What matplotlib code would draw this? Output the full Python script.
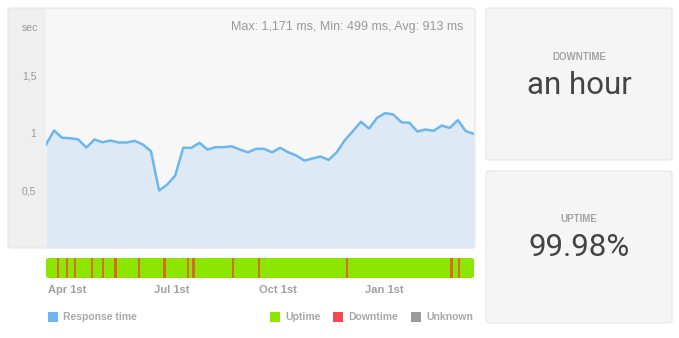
import numpy as np
import pandas as pd
import matplotlib
matplotlib.use("Agg")
import matplotlib.pyplot as plt
import matplotlib.dates as mdates
from matplotlib.patches import FancyBboxPatch, Rectangle

# === Data ===
start_date = "2016-03-14"
# weekly average response time (sec)
response_time = [
    0.898, 1.020, 0.957, 0.953, 0.942, 0.872, 0.942, 0.918, 0.933, 0.916,
    0.916, 0.930, 0.898, 0.840, 0.499, 0.550, 0.629, 0.870, 0.870, 0.913,
    0.855, 0.875, 0.875, 0.883, 0.855, 0.831, 0.861, 0.861, 0.831, 0.870,
    0.831, 0.803, 0.759, 0.777, 0.794, 0.765, 0.831, 0.936, 1.014, 1.096,
    1.037, 1.130, 1.171, 1.159, 1.092, 1.087, 1.011, 1.029, 1.017, 1.063,
    1.043, 1.110, 1.014, 0.991,
]
downtime_events = [
    "2016-03-24", "2016-04-01", "2016-04-08", "2016-04-23", "2016-05-02",
    "2016-05-13", "2016-05-14", "2016-06-03", "2016-06-24", "2016-06-25",
    "2016-07-15", "2016-07-19", "2016-07-20", "2016-08-23", "2016-09-15",
    "2016-11-30", "2017-02-28", "2017-03-01", "2017-03-07",
]
tick_dates = ["2016-04-01", "2016-07-01", "2016-10-01", "2017-01-01"]
tick_labels = ["Apr 1st", "Jul 1st", "Oct 1st", "Jan 1st"]
y_ticks = [0.5, 1.0, 1.5]
y_tick_labels = ["0,5", "1", "1,5"]
stats_text = "Max: 1,171 ms, Min: 499 ms, Avg: 913 ms"
downtime_value = "an hour"
uptime_value = "99.98%"
legend_left = [("Response time", "#6db6ee")]
legend_right = [("Uptime", "#8de600"), ("Downtime", "#f24a4f"), ("Unknown", "#9b9b9b")]

dates = pd.date_range(start_date, periods=len(response_time), freq="7D")
down_dates = pd.to_datetime(downtime_events)

plt.rcParams['font.family'] = ['Liberation Sans', 'DejaVu Sans']

W, H = 679, 338
fig = plt.figure(figsize=(W / 100, H / 100), dpi=100)
fig.patch.set_facecolor("white")


def box(x0, y0, x1, y1):
    # pixel box (top-left origin) -> figure fraction rect
    return [x0 / W, 1 - y1 / H, (x1 - x0) / W, (y1 - y0) / H]


def panel(x0, y0, x1, y1, color, edge="#e6e6e6"):
    r = box(x0, y0, x1, y1)
    p = FancyBboxPatch((r[0], r[1]), r[2], r[3],
                       boxstyle="round,pad=0,rounding_size=0.006",
                       transform=fig.transFigure, facecolor=color,
                       edgecolor=edge, linewidth=0.8, zorder=-5)
    fig.patches.append(p)


# === Chart panel ===
panel(8, 8, 475, 248, "#efefef")

ax = fig.add_axes(box(46, 9, 474, 248))
ax.set_facecolor("#f7f7f7")
ax.fill_between(dates, response_time, 0, color="#ddeaf6", linewidth=0)
ax.plot(dates, response_time, color="#6db6ee", linewidth=1.8)
ax.set_xlim(dates[0], dates[-1])
ax.set_ylim(0, 2.075)
ax.set_yticks(y_ticks, y_tick_labels)
ax.set_xticks([])
ax.tick_params(axis="y", length=0, pad=7, labelsize=7.5, labelcolor="#999999")
for s in ax.spines.values():
    s.set_visible(False)
ax.text(0.975, 0.925, stats_text, transform=ax.transAxes, ha="right", va="center",
        fontsize=9, color="#999999")
fig.text(30 / W, 1 - 28 / H, "sec", ha="center", va="center", fontsize=7.5, color="#999999")

# === Status bar ===
bx = fig.add_axes(box(46, 258, 474, 278))
bx.set_xlim(dates[0], dates[-1])
bx.set_ylim(0, 1)
bx.axis("off")
bar = FancyBboxPatch((0, 0), 1, 1, boxstyle="round,pad=0,rounding_size=0.006",
                     transform=bx.transAxes, facecolor="#8de600", edgecolor="none",
                     mutation_aspect=20)
bx.add_patch(bar)
for d in down_dates:
    bx.axvline(d, color="#e2602a", linewidth=1.3)

# date labels below bar
for d, lab in zip(pd.to_datetime(tick_dates), tick_labels):
    xf = (mdates.date2num(d) - mdates.date2num(dates[0])) / \
         (mdates.date2num(dates[-1]) - mdates.date2num(dates[0]))
    bx.text(xf, -0.62, lab, transform=bx.transAxes, ha="center", va="center",
            fontsize=8, color="#a0a0a0", fontweight="bold")

# === Legend ===
def legend_item(x, label, color):
    fig.patches.append(Rectangle((x / W, 1 - 322 / H), 10 / W, 10 / H,
                                 transform=fig.transFigure, facecolor=color,
                                 edgecolor="none"))
    fig.text((x + 15) / W, 1 - 316.5 / H, label, ha="left", va="center",
             fontsize=7.5, color="#a8a8a8", fontweight="bold")

legend_item(48, legend_left[0][0], legend_left[0][1])
for x, (lab, col) in zip([270, 333, 411], legend_right):
    legend_item(x, lab, col)

# === Right stat panels ===
panel(486, 8, 672, 160, "#f5f5f5")
panel(486, 171, 672, 323, "#f5f5f5")

big_font = ['Roboto', 'Liberation Sans', 'DejaVu Sans']
fig.text(579 / W, 1 - 57 / H, "DOWNTIME", ha="center", va="center",
         fontsize=7, color="#a4a4a4", fontweight="bold")
fig.text(579 / W, 1 - 86 / H, downtime_value, ha="center", va="center",
         fontsize=22.5, color="#444444", family=big_font, fontweight="normal")
fig.text(579 / W, 1 - 219 / H, "UPTIME", ha="center", va="center",
         fontsize=7, color="#a4a4a4", fontweight="bold")
fig.text(579 / W, 1 - 248 / H, uptime_value, ha="center", va="center",
         fontsize=22.5, color="#444444", family=big_font, fontweight="normal")

fig.savefig("out.png", dpi=100)
